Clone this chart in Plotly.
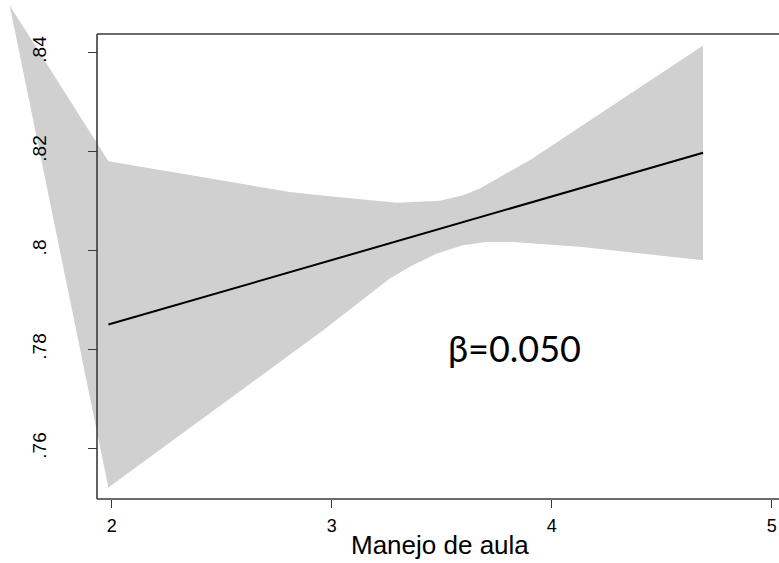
import plotly.graph_objects as go

# Confidence band (upper and lower bounds)
upper_x = [1.536, 1.985, 2.355, 2.809, 2.991, 3.188, 3.296, 3.491, 3.597, 3.673, 3.779, 3.900, 4.036, 4.688]
upper_y = [0.8495, 0.8180, 0.8152, 0.8118, 0.8109, 0.8100, 0.8096, 0.8100, 0.8111, 0.8125, 0.8152, 0.8182, 0.8222, 0.8414]
lower_x = [1.536, 1.985, 2.960, 3.264, 3.368, 3.476, 3.595, 3.703, 3.823, 4.127, 4.688]
lower_y = [0.8495, 0.7521, 0.7838, 0.7943, 0.7970, 0.7993, 0.8010, 0.8017, 0.8017, 0.8007, 0.7980]

# Fitted line
fit_x = [1.985, 4.688]
fit_y = [0.7850, 0.8197]

x_ticks = [2, 3, 4, 5]
y_ticks = [0.76, 0.78, 0.80, 0.82, 0.84]
y_ticktext = [".76", ".78", ".8", ".82", ".84"]

x_title = "Manejo de aula"
beta_label = "β=0.050"

W, H = 779, 563
frame_left, frame_top, frame_bottom = 97, 34, 499

fig = go.Figure()
fig.add_trace(go.Scatter(
    x=upper_x + lower_x[::-1], y=upper_y + lower_y[::-1],
    fill="toself", fillcolor="#d0d0d0", mode="lines",
    line=dict(width=0, color="#d0d0d0"), hoverinfo="skip", showlegend=False))
fig.add_trace(go.Scatter(
    x=fit_x, y=fit_y, mode="lines",
    line=dict(color="black", width=2), hoverinfo="skip", showlegend=False))

px = lambda v: v / W
py = lambda v: (H - v) / H
lc = "#3a3a3a"
shapes = [
    dict(type="line", xref="paper", yref="paper", x0=px(frame_left), x1=px(frame_left),
         y0=py(frame_bottom), y1=py(frame_top), line=dict(color=lc, width=1.6)),
    dict(type="line", xref="paper", yref="paper", x0=px(frame_left), x1=1.01,
         y0=py(frame_top), y1=py(frame_top), line=dict(color=lc, width=1.6)),
    dict(type="line", xref="paper", yref="paper", x0=px(frame_left), x1=1.01,
         y0=py(frame_bottom), y1=py(frame_bottom), line=dict(color=lc, width=1.6)),
]

font_main = "Liberation Sans, Arial, sans-serif"
fig.update_layout(
    width=W, height=H, margin=dict(l=0, r=0, t=0, b=0, pad=0),
    paper_bgcolor="white", plot_bgcolor="white", showlegend=False,
    shapes=shapes,
    xaxis=dict(range=[1.49227, 5.03318], domain=[0, 1], anchor="free",
               position=py(frame_bottom), showgrid=False, zeroline=False, showline=False,
               tickvals=x_ticks, ticks="outside", ticklen=8, tickwidth=1.3, tickcolor=lc,
               ticklabelstandoff=2,
               tickfont=dict(family=font_main, size=18, color="black"), automargin=False),
    yaxis=dict(range=[0.73683, 0.85057], domain=[0, 1], anchor="free",
               position=px(frame_left), showgrid=False, zeroline=False, showline=False,
               tickvals=y_ticks, ticktext=y_ticktext, tickangle=-90,
               ticks="outside", ticklen=9, tickwidth=1.3, tickcolor=lc,
               ticklabelstandoff=34,
               tickfont=dict(family=font_main, size=19, color="black"), automargin=False),
    annotations=[
        dict(text=x_title, xref="paper", yref="paper", x=440 / W, y=py(545),
             xanchor="center", yanchor="middle", showarrow=False,
             font=dict(family=font_main, size=26, color="black")),
        dict(text=beta_label, xref="x", yref="y", x=3.832, y=0.7803,
             xanchor="center", yanchor="middle", showarrow=False,
             font=dict(family="Lato, Open Sans, sans-serif", size=36, color="black")),
    ],
)

fig.write_html("out.html", config={"displayModeBar": False},
               post_script="document.body.style.margin='0';")
